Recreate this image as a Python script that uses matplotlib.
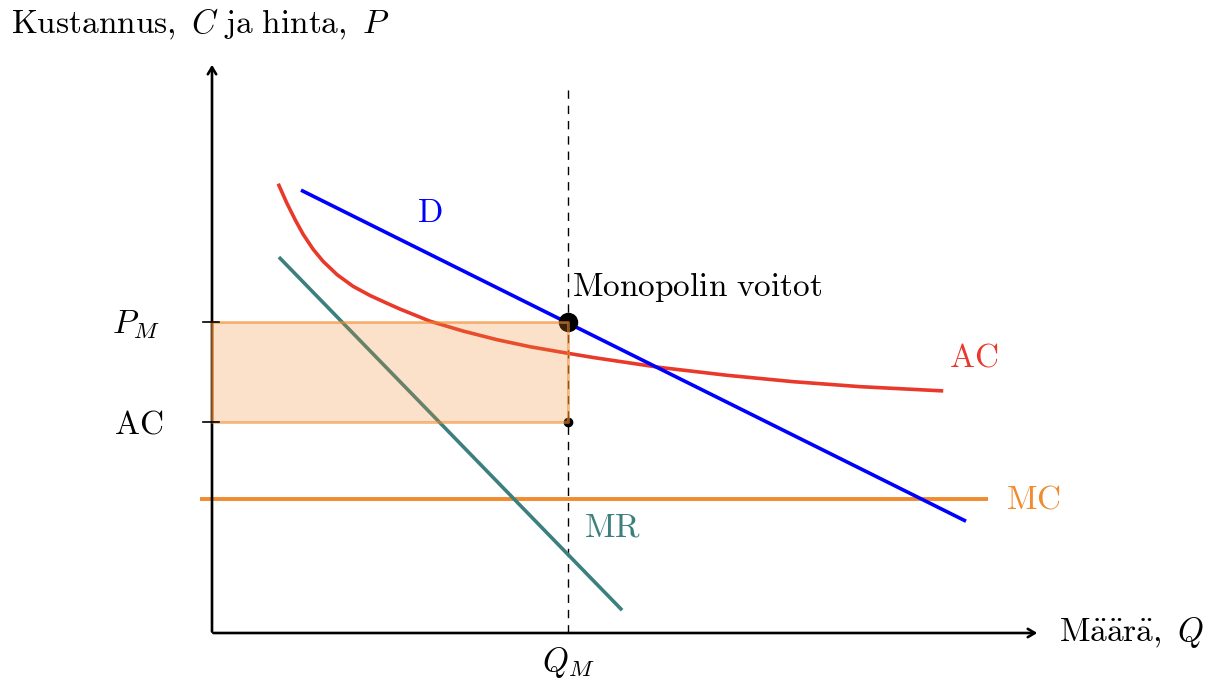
import numpy as np
import matplotlib.pyplot as plt

plt.rcParams['mathtext.fontset'] = 'cm'

# monopoly diagram values (units on both axes, origin at axis corner)
q_m = 5.0
p_m = 4.37
ac_m = 2.96
mc_level = 1.88

# demand curve end points
d_q = [1.25, 10.59]
d_p = [6.22, 1.57]

# marginal revenue end points
mr_q = [0.94, 5.76]
mr_p = [5.28, 0.32]

# marginal cost, horizontal
mc_q = [-0.17, 10.90]

# average cost curve
ac_q = [0.93, 1.05, 1.17, 1.28, 1.42, 1.56, 1.76, 1.98, 2.22, 2.46, 2.64,
        3.06, 3.53, 4.00, 4.47, 4.99, 5.35, 6.29, 7.23, 8.16, 9.10, 10.27]
ac_p = [6.31, 6.04, 5.80, 5.60, 5.39, 5.22, 5.03, 4.87, 4.74, 4.63, 4.55,
        4.38, 4.24, 4.12, 4.02, 3.93, 3.87, 3.73, 3.62, 3.53, 3.46, 3.40]

blue = '#0000ff'
red = '#e8392a'
teal = '#3b807e'
orange = '#f08b2f'

fig = plt.figure(figsize=(12.17, 6.8), dpi=100)
ax = fig.add_axes([0, 0, 1, 1])
ax.set_xlim(-212 / 71.2, (1217 - 212) / 71.2)
ax.set_ylim(-47 / 71.2, 633 / 71.2)
ax.axis('off')

fs = 24

# axes with arrows
ax.annotate('', xy=(0, 8.02), xytext=(0, -0.02),
            arrowprops=dict(arrowstyle='->, head_length=0.5, head_width=0.3', lw=1.9, color='black'))
ax.annotate('', xy=(11.63, 0), xytext=(-0.02, 0),
            arrowprops=dict(arrowstyle='->, head_length=0.5, head_width=0.3', lw=1.9, color='black'))

# dashed line at Q_M
ax.plot([q_m, q_m], [0, 7.70], color='black', lw=1, dashes=(6, 5))

# curves
ax.plot(mc_q, [mc_level, mc_level], color=orange, lw=2.8, solid_capstyle='butt')
ax.plot(mr_q, mr_p, color=teal, lw=2.6, solid_capstyle='butt')
ax.plot(ac_q, ac_p, color=red, lw=2.6, solid_capstyle='butt', solid_joinstyle='round')
ax.plot(d_q, d_p, color=blue, lw=2.6, solid_capstyle='butt')

# points
ax.plot([q_m], [p_m], 'o', color='black', ms=13)
ax.plot([q_m], [ac_m], 'o', color='black', ms=6)

# profit rectangle
ax.fill_between([0, q_m], ac_m, p_m, facecolor=orange, alpha=0.25, lw=0, zorder=5)
ax.plot([0, q_m, q_m, 0, 0], [p_m, p_m, ac_m, ac_m, p_m], color=orange, alpha=0.6, lw=2, zorder=6)

# ticks on y axis
for y in [p_m, ac_m]:
    ax.plot([-0.12, 0.1], [y, y], color='black', lw=1.2, zorder=7)

# labels
ax.text(-2.83, 8.55, r'$\mathrm{Kustannus,}\ C\ \mathrm{ja\ hinta,}\ P$', fontsize=fs, va='center', ha='left')
ax.text(11.9, 0, r'$\mathrm{M\ddot{a}\ddot{a}r\ddot{a},}\ Q$', fontsize=fs, va='center', ha='left')
ax.text(-1.07, p_m - 0.04, r'$P_M$', fontsize=fs, va='center', ha='center')
ax.text(-1.03, ac_m - 0.03, r'$\mathrm{AC}$', fontsize=fs, va='center', ha='center')
ax.text(q_m, -0.42, r'$Q_M$', fontsize=fs, va='center', ha='center')
ax.text(q_m + 0.05, 4.86, r'$\mathrm{Monopolin\ voitot}$', fontsize=fs, va='center', ha='left')
ax.text(3.06, 5.90, r'$\mathrm{D}$', fontsize=fs, va='center', ha='center', color=blue)
ax.text(10.69, 3.88, r'$\mathrm{AC}$', fontsize=fs, va='center', ha='center', color=red)
ax.text(11.53, mc_level, r'$\mathrm{MC}$', fontsize=fs, va='center', ha='center', color=orange)
ax.text(5.62, 1.49, r'$\mathrm{MR}$', fontsize=fs, va='center', ha='center', color=teal)

fig.savefig('out.png', dpi=100)
